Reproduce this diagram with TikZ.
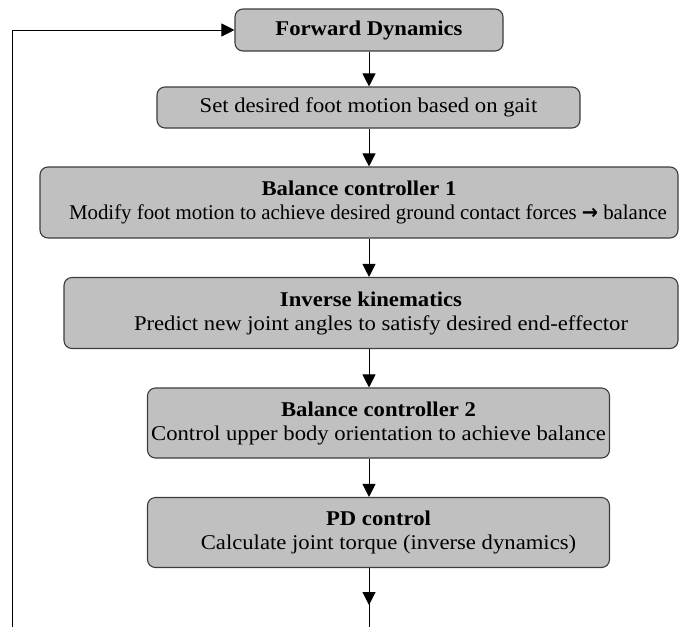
\documentclass[tikz,border=0pt]{standalone}
\usepackage{fontspec}
\setmainfont[FakeStretch=1.08]{Liberation Serif}
\newfontfamily\arrowfont{DejaVu Sans}
\usetikzlibrary{arrows.meta}
\definecolor{boxgray}{RGB}{192,192,192}
\definecolor{edgegray}{RGB}{60,60,60}

\begin{document}
\begin{tikzpicture}[x=1pt,y=-1pt,
   every node/.style={font=\fontsize{21}{24}\selectfont},
   stage/.style={draw=edgegray,fill=boxgray,line width=1.1pt,
                 rounded corners=8pt,align=center,inner sep=0pt},
   flow/.style={-{Triangle[length=13pt,width=13pt]},line width=1pt}]

\useasboundingbox (0,0) rectangle (682,627);

% stages of the loop
\node[stage,minimum width=268pt,minimum height=42pt] (fwd) at (369,30)
    {\textbf{Forward Dynamics}};
\node[stage,minimum width=423pt,minimum height=41pt] (gait) at (368.5,107.5)
    {Set desired foot motion based on gait};
\node[stage,minimum width=638pt,minimum height=71pt] (bal1) at (359,202.5)
    {\textbf{Balance controller 1}\\
     \hspace*{18pt}\scalebox{0.92}[1]{Modify foot motion to achieve desired ground contact forces {\arrowfont\bfseries →} balance}};
\node[stage,minimum width=614pt,minimum height=71pt] (ik) at (371,313)
    {\textbf{Inverse kinematics}\\
     \hspace*{20pt}Predict new joint angles to satisfy desired end-effector};
\node[stage,minimum width=462pt,minimum height=70pt] (bal2) at (378.5,423)
    {\textbf{Balance controller 2}\\
     Control upper body orientation to achieve balance};
\node[stage,minimum width=462pt,minimum height=70pt] (pd) at (378.5,532.5)
    {\textbf{PD control}\\
     \hspace*{20pt}Calculate joint torque (inverse dynamics)};

\coordinate (tip) at (369,605);
\coordinate (out) at (369,627);
\coordinate (back) at (12,627);

% arrows
\draw[flow] (fwd.south) -- (fwd.south |- gait.north);
\draw[flow] (fwd.south |- gait.south) -- (fwd.south |- bal1.north);
\draw[flow] (fwd.south |- bal1.south) -- (fwd.south |- ik.north);
\draw[flow] (fwd.south |- ik.south) -- (fwd.south |- bal2.north);
\draw[flow] (fwd.south |- bal2.south) -- (fwd.south |- pd.north);
\draw[line width=1pt] (fwd.south |- pd.south) -- (out);
\draw[flow] (fwd.south |- pd.south) -- (tip);
\draw[flow] (back) |- (fwd.west);

\end{tikzpicture}
\end{document}
